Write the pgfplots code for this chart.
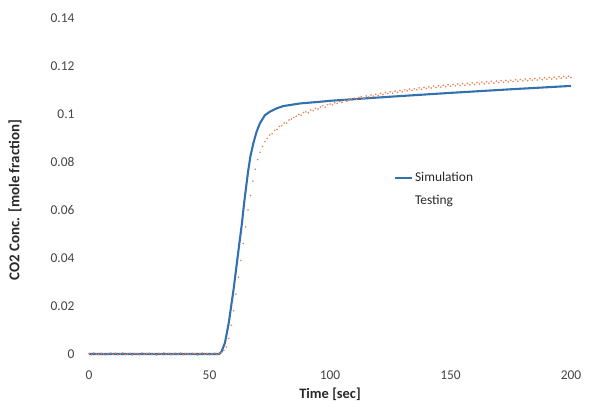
\documentclass[border=0pt]{standalone}
\usepackage{pgfplots}
\pgfplotsset{compat=1.18}
\usepackage{fontspec}
\setmainfont{Carlito}
\definecolor{simblue}{RGB}{50,112,176}
\definecolor{testor}{RGB}{232,128,80}
\definecolor{ticktxt}{RGB}{70,70,70}
\definecolor{labtxt}{RGB}{40,40,40}
\begin{document}
\begin{tikzpicture}
\path[use as bounding box] (-89bp,-50bp) rectangle (501bp,354bp);
\begin{axis}[
  scale only axis,
  width=482bp, height=336bp,
  xmin=0, xmax=200, ymin=0, ymax=0.14,
  xtick={0,50,100,150,200},
  ytick={0,0.02,0.04,0.06,0.08,0.1,0.12,0.14},
  yticklabels={0,0.02,0.04,0.06,0.08,0.1,0.12,0.14},
  axis line style={draw=none},
  major tick length=0pt,
  /pgf/number format/assume math mode=true,
  tick label style={font=\fontsize{13.5}{16}\selectfont, text=ticktxt},
  yticklabel style={xshift=-11bp},
  xticklabel style={yshift=-13bp},
  xlabel={Time [sec]},
  ylabel={CO2 Conc. [mole fraction]},
  xlabel style={font=\fontsize{14.5}{16}\selectfont\bfseries, text=labtxt,
    at={(axis description cs:0.5,0)}, anchor=center, yshift=-40bp},
  ylabel style={font=\fontsize{15}{16}\selectfont\bfseries, text=labtxt,
    at={(axis description cs:-0.1535,0.458)}, anchor=center},
  clip=false,
  legend style={draw=none, fill=none, at={(0.626,0.553)}, anchor=north west,
    font=\fontsize{13.5}{16}\selectfont, text=labtxt, row sep=8bp,
    /tikz/every even column/.append style={column sep=1pt}},
  legend cell align=left,
  legend image code/.code={\draw[#1] (0bp,0bp) -- (17bp,0bp);},
]
\addplot[simblue, line width=2.1pt, line join=round] coordinates {
(0,0) (20,0) (40,0) (54,0) (55,0.001) (56.4,0.0046) (58,0.013) (60,0.027)
(62,0.043) (63.4,0.054) (64.5,0.064) (66,0.076) (67,0.0825) (68.2,0.0878)
(69.5,0.0925) (70.9,0.0961) (73,0.0995) (75.1,0.101) (78,0.1024) (80.6,0.1033)
(87.6,0.1044) (95.9,0.1051) (100,0.1055) (125,0.1072) (150,0.1088) (175,0.1103) (200,0.1117)
};
\addlegendentry{Simulation}
\addplot[only marks, color=testor, mark=*, mark size=0.6pt,
  mark options={draw=none, fill=testor, fill opacity=0.42},
  legend image code/.code={}] coordinates {
(0,0.0002) (1,-0.0003) (2,0.0004) (3,0.0000) (4,-0.0002) (5,0.0003) (6,0.0001) (7,-0.0004)
(8,0.0002) (9,0.0004) (10,-0.0001) (11,0.0003) (12,-0.0003) (13,0.0001) (14,0.0004) (15,-0.0002)
(16,0.0000) (17,0.0003) (18,-0.0004) (19,0.0002) (20,0.0001) (21,-0.0003) (22,0.0004) (23,-0.0001)
(24,0.0002) (25,0.0003) (26,-0.0002) (27,0.0001) (28,-0.0004) (29,0.0003) (30,0.0000) (31,0.0004)
(32,-0.0002) (33,0.0002) (34,-0.0003) (35,0.0001) (36,0.0003) (37,-0.0001) (38,0.0004) (39,-0.0003)
(40,0.0002) (41,0.0000) (42,-0.0002) (43,0.0003) (44,0.0001) (45,-0.0004) (46,0.0002) (47,0.0004)
(48,-0.0001) (49,0.0002) (50,-0.0003) (51,0.0001) (52,0.0003) (53,-0.0002) (54,0.0002) (55,0.0006)
(56,0.0015) (57,0.003) (58,0.0065) (59,0.012) (60,0.018) (61,0.025) (62,0.032) (63,0.039)
(64,0.046) (65,0.053) (66,0.060) (67,0.066) (68,0.072) (69,0.077) (70,0.081) (71,0.084)
(72,0.0865) (73,0.0885) (74,0.0898) (75,0.0912) (76,0.0918) (77,0.0931) (78,0.0935) (79,0.0948)
(80,0.0951) (81,0.0963) (82,0.0962) (83,0.0975) (84,0.0979) (85,0.0986) (86,0.0991) (87,0.0998)
(88,0.0995) (89,0.1006) (90,0.1009) (91,0.1005) (92,0.1017) (93,0.1014) (94,0.1024) (95,0.1021)
(96,0.1029) (97,0.1034) (98,0.1028) (99,0.1039) (100,0.1042) (101,0.1038) (102,0.1047) (103,0.1044)
(104,0.1052) (105,0.1049) (106,0.1057) (107,0.1053) (108,0.1062) (109,0.1058) (110,0.1066) (111,0.1061)
(112,0.1069) (113,0.1072) (114,0.1065) (115,0.1075) (116,0.1071) (117,0.1079) (118,0.1074) (119,0.1082)
(120,0.1078) (121,0.1086) (122,0.1081) (123,0.1089) (124,0.1085) (125,0.1093) (126,0.1087) (127,0.1095)
(128,0.1091) (129,0.1098) (130,0.1093) (131,0.1101) (132,0.1096) (133,0.1104) (134,0.1099) (135,0.1106)
(136,0.1101) (137,0.1109) (138,0.1103) (139,0.1111) (140,0.1106) (141,0.1113) (142,0.1108) (143,0.1116)
(144,0.1110) (145,0.1118) (146,0.1112) (147,0.1120) (148,0.1114) (149,0.1122) (150,0.1116) (151,0.1123)
(152,0.1117) (153,0.1125) (154,0.1119) (155,0.1127) (156,0.1120) (157,0.1128) (158,0.1122) (159,0.1130)
(160,0.1123) (161,0.1131) (162,0.1125) (163,0.1133) (164,0.1126) (165,0.1134) (166,0.1128) (167,0.1136)
(168,0.1129) (169,0.1137) (170,0.1131) (171,0.1139) (172,0.1132) (173,0.1140) (174,0.1134) (175,0.1141)
(176,0.1135) (177,0.1143) (178,0.1137) (179,0.1144) (180,0.1138) (181,0.1146) (182,0.1139) (183,0.1147)
(184,0.1141) (185,0.1148) (186,0.1142) (187,0.1150) (188,0.1143) (189,0.1151) (190,0.1145) (191,0.1152)
(192,0.1146) (193,0.1154) (194,0.1147) (195,0.1155) (196,0.1149) (197,0.1156) (198,0.1150) (199,0.1158)
(200,0.1152)
};
\addlegendentry{Testing}
\end{axis}
\end{tikzpicture}
\end{document}
